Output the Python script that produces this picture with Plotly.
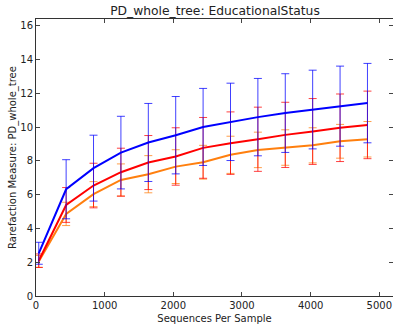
import plotly.graph_objects as go

seqs = [40, 439, 838, 1237, 1636, 2035, 2434, 2833, 3232, 3631, 4030, 4429, 4828]

blue_mean = [2.53, 6.32, 7.57, 8.49, 9.09, 9.52, 10.01, 10.31, 10.59, 10.83, 11.04, 11.24, 11.42]
blue_sd = [0.65, 1.75, 1.95, 2.15, 2.31, 2.29, 2.28, 2.29, 2.29, 2.33, 2.33, 2.37, 2.35]

red_mean = [2.09, 5.39, 6.54, 7.33, 7.90, 8.26, 8.77, 9.05, 9.28, 9.54, 9.74, 9.96, 10.13]
red_sd = [0.40, 1.03, 1.32, 1.42, 1.60, 1.70, 1.80, 1.85, 1.90, 1.93, 1.95, 2.00, 2.00]

orange_mean = [2.05, 4.86, 6.03, 6.87, 7.21, 7.66, 7.92, 8.36, 8.65, 8.79, 8.92, 9.16, 9.28]
orange_sd = [0.35, 0.69, 0.74, 0.95, 1.10, 1.00, 1.00, 1.10, 1.05, 1.05, 1.04, 1.00, 1.05]

x_ticks = [0, 1000, 2000, 3000, 4000, 5000]
y_ticks = [0, 2, 4, 6, 8, 10, 12, 14, 16]

series = [
    ("orange", orange_mean, orange_sd, "#ff7f0e", "rgba(255,127,14,0.75)"),
    ("red", red_mean, red_sd, "#ff0000", "rgba(255,0,0,0.75)"),
    ("blue", blue_mean, blue_sd, "#0000ff", "rgba(0,0,255,0.75)"),
]

fig = go.Figure()
for name, m, sd, col, ecol in series:
    fig.add_trace(go.Scatter(
        x=seqs, y=m, mode="lines", name=name,
        line=dict(color=col, width=2),
        error_y=dict(type="data", array=sd, visible=True, color=ecol, thickness=1, width=4),
        showlegend=False,
    ))

font = "DejaVu Sans"
fig.update_layout(
    width=393, height=328,
    margin=dict(l=36, r=0, t=19, b=32),
    paper_bgcolor="white", plot_bgcolor="white",
    font=dict(family=font, size=10, color="#222222"),
    title=dict(text="PD_whole_tree: EducationalStatus", x=0.547, xanchor="center",
               y=0.968, yanchor="middle", font=dict(size=12.3, color="#222222")),
    xaxis=dict(range=[0, 5200], tickvals=x_ticks, ticks="inside", ticklen=4,
               showline=True, linecolor="#333333", linewidth=1, mirror="ticks",
               showgrid=False, zeroline=False,
               title=dict(text="Sequences Per Sample", standoff=4, font=dict(size=10))),
    yaxis=dict(range=[0, 16.4], tickvals=y_ticks, ticks="inside", ticklen=4,
               showline=True, linecolor="#333333", linewidth=1, mirror="ticks",
               showgrid=False, zeroline=False,
               title=dict(text="Rarefaction Measure: PD_whole_tree", standoff=1, font=dict(size=10))),
)

fig.write_html("out.html")
